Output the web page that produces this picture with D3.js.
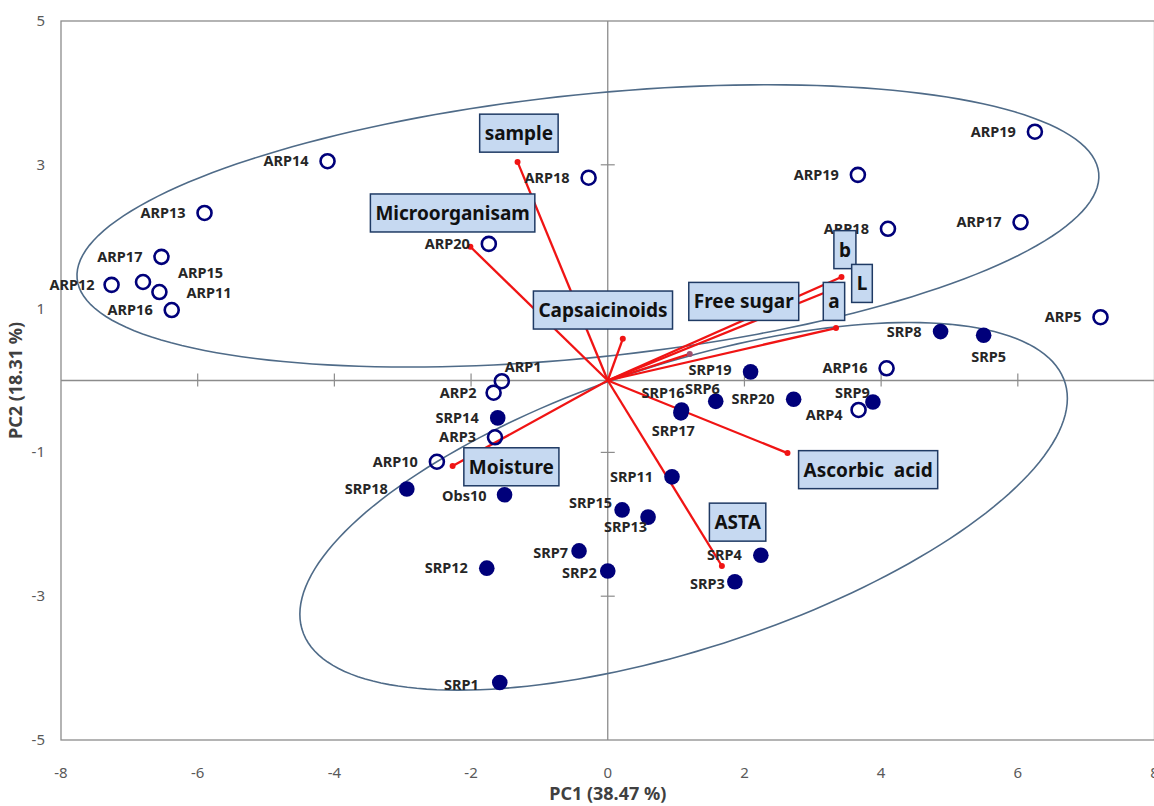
<!DOCTYPE html>
<meta charset="utf-8">
<style>
body { margin: 0; background: #fff; }
.tick-label { fill: #595959; font: 15px "Noto Sans", sans-serif; }
.axis-title { fill: #404040; font: bold 18px "Noto Sans", sans-serif; }
.pt-label { fill: #262626; font: bold 14.5px "Noto Sans", sans-serif; }
.box-label { fill: #111; font: bold 19px "Noto Sans", sans-serif; white-space: pre; }
</style>
<body>
<div id="chart"></div>
<script src="https://d3js.org/d3.v7.min.js"></script>
<script>

var width = 1154,
    height = 806;

// open circles (ARP)
var arpNames = ["ARP19", "ARP14", "ARP18", "ARP19", "ARP13", "ARP18", "ARP17", "ARP20", "ARP17", "ARP12",
                "ARP15", "ARP11", "ARP16", "ARP5", "ARP16", "ARP1", "ARP2", "ARP3", "ARP10", "ARP4"];
var arpPC1 = [6.25, -4.10, -0.28, 3.66, -5.90, 4.10, 6.04, -1.74, -6.53, -7.26,
              -6.80, -6.56, -6.38, 7.21, 4.08, -1.55, -1.67, -1.65, -2.50, 3.67];
var arpPC2 = [3.46, 3.05, 2.82, 2.86, 2.33, 2.11, 2.20, 1.90, 1.72, 1.33,
              1.37, 1.23, 0.98, 0.88, 0.17, -0.01, -0.17, -0.79, -1.13, -0.41];

// filled circles (SRP)
var srpNames = ["SRP8", "SRP5", "SRP19", "SRP6", "SRP20", "SRP9", "SRP16", "SRP17", "SRP14", "SRP11",
                "SRP18", "Obs10", "SRP15", "SRP13", "SRP7", "SRP4", "SRP12", "SRP2", "SRP3", "SRP1"];
var srpPC1 = [4.87, 5.50, 2.09, 1.58, 2.72, 3.88, 1.08, 1.07, -1.61, 0.94,
              -2.94, -1.51, 0.21, 0.59, -0.42, 2.24, -1.77, 0.00, 1.86, -1.58];
var srpPC2 = [0.68, 0.63, 0.12, -0.29, -0.26, -0.30, -0.41, -0.45, -0.52, -1.34,
              -1.51, -1.59, -1.80, -1.90, -2.37, -2.43, -2.61, -2.65, -2.80, -4.20];

// loading vectors
var varNames = ["sample", "Microorganisam", "Capsaicinoids", "Free sugar", "b", "L", "a",
                "Moisture", "ASTA", "Ascorbic  acid"];
var varPC1 = [-1.32, -2.01, 0.22, 1.20, 3.42, 3.38, 3.34, -2.27, 1.67, 2.63];
var varPC2 = [3.04, 1.86, 0.58, 0.37, 1.44, 1.30, 0.73, -1.19, -2.58, -1.01];
// where each variable's name box sits (data units)
var boxPC1 = [-1.30, -2.27, -0.07, 1.99, 3.47, 3.72, 3.31, -1.41, 1.90, 3.81];
var boxPC2 = [3.44, 2.33, 0.98, 1.10, 1.82, 1.35, 1.10, -1.20, -1.97, -1.24];

// confidence ellipses: centre, semi-axes, rotation (degrees)
var ellipseCx = [-0.29, 1.11];
var ellipseCy = [2.15, -1.75];
var ellipseRx = [7.51, 5.84];
var ellipseRy = [1.83, 1.99];
var ellipseAngle = [5.6, 17.0];

var xTicks = [-8, -6, -4, -2, 0, 2, 4, 6, 8];
var yTicks = [5, 3, 1, -1, -3, -5];

var x = d3.scaleLinear().domain([-8, 8]).range([61, 1154.5]);
var y = d3.scaleLinear().domain([-5, 5]).range([740, 21]);

var svg = d3.select("#chart").append("svg")
    .attr("width", width)
    .attr("height", height);

var gray = "#8c8c8c";

// plot frame
svg.append("rect")
    .attr("x", x(-8)).attr("y", y(5))
    .attr("width", x(8) - x(-8)).attr("height", y(-5) - y(5))
    .attr("fill", "none").attr("stroke", gray).attr("stroke-width", 1.3);

// zero axes
svg.append("line")
    .attr("x1", x(-8)).attr("x2", x(8)).attr("y1", y(0)).attr("y2", y(0))
    .attr("stroke", gray).attr("stroke-width", 1.3);
svg.append("line")
    .attr("x1", x(0)).attr("x2", x(0)).attr("y1", y(5)).attr("y2", y(-5))
    .attr("stroke", gray).attr("stroke-width", 1.3);

svg.selectAll(".xtick").data(xTicks.filter(function(d) { return d > -8 && d < 8 && d != 0; }))
  .enter().append("line")
    .attr("x1", function(d) { return x(d); }).attr("x2", function(d) { return x(d); })
    .attr("y1", y(0) - 7).attr("y2", y(0) + 6)
    .attr("stroke", gray).attr("stroke-width", 1.2);

svg.selectAll(".ytick").data(yTicks.filter(function(d) { return d > -5 && d < 5; }))
  .enter().append("line")
    .attr("x1", x(0) - 7).attr("x2", x(0) + 7)
    .attr("y1", function(d) { return y(d); }).attr("y2", function(d) { return y(d); })
    .attr("stroke", gray).attr("stroke-width", 1.2);

// tick labels along the frame
svg.selectAll(".xlab").data(xTicks).enter().append("text")
    .attr("class", "tick-label")
    .attr("x", function(d) { return x(d); })
    .attr("y", 778)
    .attr("text-anchor", "middle")
    .text(function(d) { return d; });

svg.selectAll(".ylab").data(yTicks).enter().append("text")
    .attr("class", "tick-label")
    .attr("x", 45)
    .attr("y", function(d) { return y(d) + 5; })
    .attr("text-anchor", "end")
    .text(function(d) { return d; });

svg.append("text")
    .attr("class", "axis-title")
    .attr("x", x(0))
    .attr("y", 800)
    .attr("text-anchor", "middle")
    .text("PC1 (38.47 %)");

svg.append("text")
    .attr("class", "axis-title")
    .attr("transform", "translate(22," + y(0) + ") rotate(-90)")
    .attr("text-anchor", "middle")
    .text("PC2 (18.31 %)");

// ellipses
var line = d3.line()
    .x(function(d) { return x(d[0]); })
    .y(function(d) { return y(d[1]); })
    .curve(d3.curveLinearClosed);

ellipseCx.forEach(function(cx, i) {
  var phi = ellipseAngle[i] * Math.PI / 180;
  var pts = d3.range(0, 360, 2).map(function(deg) {
    var t = deg * Math.PI / 180;
    var ex = ellipseRx[i] * Math.cos(t), ey = ellipseRy[i] * Math.sin(t);
    return [cx + ex * Math.cos(phi) - ey * Math.sin(phi),
            ellipseCy[i] + ex * Math.sin(phi) + ey * Math.cos(phi)];
  });
  svg.append("path")
      .datum(pts)
      .attr("d", line)
      .attr("fill", "none")
      .attr("stroke", "#4f6b88")
      .attr("stroke-width", 1.6);
});

// loading vectors
var red = "#f01414";
svg.selectAll(".vec").data(varNames).enter().append("line")
    .attr("x1", x(0)).attr("y1", y(0))
    .attr("x2", function(d, i) { return x(varPC1[i]); })
    .attr("y2", function(d, i) { return y(varPC2[i]); })
    .attr("stroke", red).attr("stroke-width", 2.3);

svg.selectAll(".vecdot").data(varNames).enter().append("circle")
    .attr("cx", function(d, i) { return x(varPC1[i]); })
    .attr("cy", function(d, i) { return y(varPC2[i]); })
    .attr("r", 3)
    .attr("fill", function(d) { return d == "Free sugar" ? "#a0506e" : red; });

// points
var navy = "#00007a";
svg.selectAll(".arp").data(arpNames).enter().append("circle")
    .attr("cx", function(d, i) { return x(arpPC1[i]); })
    .attr("cy", function(d, i) { return y(arpPC2[i]); })
    .attr("r", 7)
    .attr("fill", "#fff")
    .attr("fill-opacity", 0)
    .attr("stroke", navy)
    .attr("stroke-width", 2.6);

svg.selectAll(".srp").data(srpNames).enter().append("circle")
    .attr("cx", function(d, i) { return x(srpPC1[i]); })
    .attr("cy", function(d, i) { return y(srpPC2[i]); })
    .attr("r", 7.8)
    .attr("fill", navy);

// point labels: mostly to the left, a few moved to avoid overlaps
var labelPos = {
  "ARP15": [35, -4, "start"], "ARP11": [27, 6, "start"], "ARP1": [3, -9, "start"],
  "ARP12": [-17, 5], "ARP2": [-17, 5], "ARP4": [-16, 10],
  "SRP15": [-10, -2], "SRP13": [-1, 15], "SRP6": [4, -7], "SRP16": [3, -12],
  "SRP17": [14, 23], "SRP9": [-3, -4], "SRP5": [5, 27, "middle"], "SRP19": [-19, 3],
  "SRP7": [-11, 7], "SRP2": [-11, 7], "SRP3": [-10, 7], "SRP1": [-21, 8], "Obs10": [-18, 6]
};

function addLabels(names, px, py) {
  svg.selectAll(null).data(names).enter().append("text")
      .attr("class", "pt-label")
      .attr("x", function(d, i) { var p = labelPos[d] || [-19, 5]; return x(px[i]) + p[0]; })
      .attr("y", function(d, i) { var p = labelPos[d] || [-19, 5]; return y(py[i]) + p[1]; })
      .attr("text-anchor", function(d) { var p = labelPos[d]; return p && p[2] ? p[2] : "end"; })
      .text(function(d) { return d; });
}
addLabels(arpNames, arpPC1, arpPC2);
addLabels(srpNames, srpPC1, srpPC2);

// variable name boxes
varNames.forEach(function(name, i) {
  var g = svg.append("g")
      .attr("transform", "translate(" + x(boxPC1[i]) + "," + y(boxPC2[i]) + ")");
  var rect = g.append("rect");
  var t = g.append("text")
      .attr("class", "box-label")
      .attr("text-anchor", "middle")
      .attr("y", 7)
      .text(name);
  var w = t.node().getComputedTextLength() + 10;
  rect.attr("x", -w / 2).attr("y", -19)
      .attr("width", w).attr("height", 38)
      .attr("fill", "#c6d9f1")
      .attr("stroke", "#1f3a64")
      .attr("stroke-width", 1.5);
});

</script>
</body>
